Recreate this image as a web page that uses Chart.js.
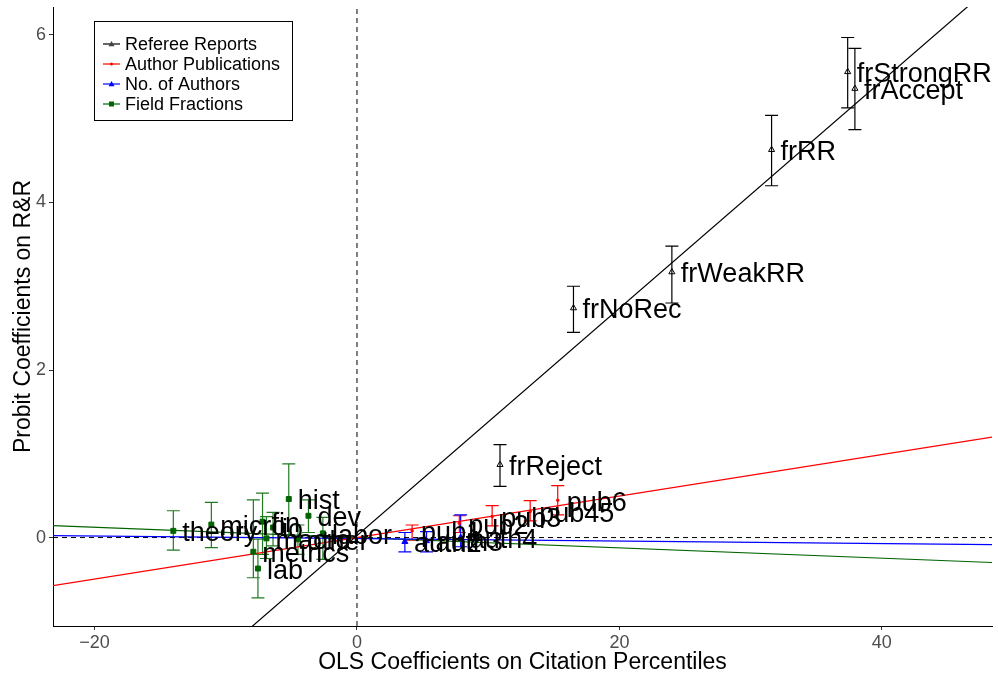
<!DOCTYPE html>
<html>
<head>
<meta charset="utf-8">
<script src="https://cdn.jsdelivr.net/npm/chart.js@4.4.1/dist/chart.umd.min.js"></script>
<style>
  html, body { margin: 0; padding: 0; background: #fff; }
  #wrap { width: 998px; height: 679px; }
</style>
</head>
<body>
<div id="wrap"><canvas id="grafico"></canvas></div>
<script>
// referee reports (black)
const refLabels = ['frReject', 'frNoRec', 'frWeakRR', 'frRR', 'frStrongRR', 'frAccept'];
const refX  = [10.9, 16.5, 24.0, 31.6, 37.4, 37.95];
const refY  = [0.87, 2.74, 3.17, 4.63, 5.56, 5.36];
const refLo = [0.61, 2.45, 2.80, 4.20, 5.13, 4.87];
const refHi = [1.11, 3.00, 3.48, 5.04, 5.97, 5.84];

// author publications (red)
const pubLabels = ['pub1', 'pub2', 'pub3', 'pub45', 'pub6'];
const pubX  = [4.2, 7.8, 10.3, 13.2, 15.3];
const pubY  = [0.08, 0.17, 0.25, 0.31, 0.445];
const pubLo = [-0.03, 0.06, 0.14, 0.20, 0.27];
const pubHi = [0.15, 0.26, 0.38, 0.44, 0.62];

// number of authors (blue)
const authLabels = ['auth2', 'auth3', 'auth4'];
const authX  = [3.65, 5.3, 7.9];
const authY  = [-0.05, -0.04, 0.0];
const authLo = [-0.17, -0.17, -0.11];
const authHi = [0.06, 0.07, 0.27];

// field fractions (green)
const fieldLabels = ['theory', 'micro', 'fin', 'io', 'hist', 'dev', 'metrics', 'lab', 'macro', 'labor', 'other'];
const fieldX  = [-14.0, -11.1, -7.2, -6.4, -5.2, -3.7, -7.9, -7.55, -6.9, -2.6, -4.5];
const fieldY  = [0.08, 0.155, 0.19, 0.12, 0.46, 0.26, -0.17, -0.37, -0.01, 0.05, -0.02];
const fieldLo = [-0.15, -0.12, -0.20, -0.10, 0.03, 0.06, -0.48, -0.72, -0.25, -0.26, -0.20];
const fieldHi = [0.32, 0.42, 0.53, 0.30, 0.88, 0.45, 0.45, -0.02, 0.25, 0.24, 0.15];

// fitted lines, y at the two ends of the x range
const fitX = [-23.17, 48.4];
const refFit = [-3.12, 6.59];
const pubFit = [-0.575, 1.2];
const authFit = [0.024, -0.084];
const fieldFit = [0.143, -0.298];

const xTicks = [-20, 0, 20, 40];
const yTicks = [0, 2, 4, 6];
const xMin = -23.17, xMax = 48.4, yMin = -1.056, yMax = 6.334;

const serie = [
  { nome: 'Referee Reports', colore: '#000000', barra: '#000000', etichette: refLabels, x: refX, y: refY, lo: refLo, hi: refHi, fit: refFit,
    stile: 'triangle', raggio: 3.5, pieno: false },
  { nome: 'Author Publications', colore: '#ff0000', barra: '#ff0000', etichette: pubLabels, x: pubX, y: pubY, lo: pubLo, hi: pubHi, fit: pubFit,
    stile: 'circle', raggio: 1.3, pieno: true },
  { nome: 'No. of Authors', colore: '#0000ff', barra: '#0000ff', etichette: authLabels, x: authX, y: authY, lo: authLo, hi: authHi, fit: authFit,
    stile: 'triangle', raggio: 3.5, pieno: true },
  { nome: 'Field Fractions', colore: '#006400', barra: '#217a21', etichette: fieldLabels, x: fieldX, y: fieldY, lo: fieldLo, hi: fieldHi, fit: fieldFit,
    stile: 'rect', raggio: 3.5, pieno: true }
];

const datasets = [];
serie.forEach(s => {
  datasets.push({
    label: s.nome,
    data: s.x.map((v, i) => ({ x: v, y: s.y[i] })),
    showLine: false,
    pointStyle: s.stile,
    pointRadius: s.raggio,
    pointBorderWidth: 1,
    pointBorderColor: s.colore,
    pointBackgroundColor: s.pieno ? s.colore : 'rgba(0,0,0,0)',
    order: 1
  });
});
serie.forEach(s => {
  datasets.push({
    label: s.nome + ' fit',
    data: fitX.map((v, i) => ({ x: v, y: s.fit[i] })),
    showLine: true,
    borderColor: s.colore,
    borderWidth: 1.2,
    pointRadius: 0,
    order: 2
  });
});
// dashed zero lines
datasets.push({
  label: 'zero x', data: [{ x: 0, y: yMin }, { x: 0, y: yMax }],
  showLine: true, borderColor: '#000', borderWidth: 1, borderDash: [5, 4], pointRadius: 0, order: 3
});
datasets.push({
  label: 'zero y', data: [{ x: xMin, y: 0 }, { x: xMax, y: 0 }],
  showLine: true, borderColor: '#000', borderWidth: 1, borderDash: [5, 4], pointRadius: 0, order: 3
});

const barre = {
  id: 'barre',
  beforeDatasetsDraw(chart) {
    const { ctx, chartArea: a, scales: { x, y } } = chart;
    ctx.save();
    ctx.beginPath();
    ctx.rect(a.left, a.top, a.right - a.left, a.bottom - a.top);
    ctx.clip();
    ctx.lineWidth = 1.2;
    serie.forEach(s => {
      ctx.strokeStyle = s.barra;
      s.x.forEach((v, i) => {
        const px = x.getPixelForValue(v);
        const t = y.getPixelForValue(s.hi[i]);
        const b = y.getPixelForValue(s.lo[i]);
        ctx.beginPath();
        ctx.moveTo(px, t); ctx.lineTo(px, b);
        ctx.moveTo(px - 6.5, t); ctx.lineTo(px + 6.5, t);
        ctx.moveTo(px - 6.5, b); ctx.lineTo(px + 6.5, b);
        ctx.stroke();
      });
    });
    ctx.restore();
  },
  afterDatasetsDraw(chart) {
    const { ctx, chartArea: a, scales: { x, y } } = chart;
    ctx.save();
    ctx.beginPath();
    ctx.rect(a.left, a.top, a.right - a.left, a.bottom - a.top);
    ctx.clip();
    ctx.fillStyle = '#000';
    ctx.font = '27px "Liberation Sans", Arial, sans-serif';
    ctx.textAlign = 'left';
    ctx.textBaseline = 'middle';
    serie.forEach(s => {
      s.etichette.forEach((t, i) => {
        ctx.fillText(t, x.getPixelForValue(s.x[i]) + 9, y.getPixelForValue(s.y[i]) + 3);
      });
    });
    ctx.restore();
  }
};

const legenda = {
  id: 'legenda',
  afterDraw(chart) {
    const ctx = chart.ctx;
    ctx.save();
    ctx.fillStyle = '#fff';
    ctx.fillRect(94, 21, 198, 100);
    ctx.strokeStyle = '#000';
    ctx.lineWidth = 1;
    ctx.strokeRect(94.5, 21.5, 198, 99);
    ctx.font = '18px "Liberation Sans", Arial, sans-serif';
    ctx.textBaseline = 'middle';
    ctx.textAlign = 'left';
    serie.forEach((s, i) => {
      const cy = 44 + i * 20;
      ctx.strokeStyle = s.colore;
      ctx.lineWidth = 1.2;
      ctx.beginPath();
      ctx.moveTo(103, cy); ctx.lineTo(120, cy);
      ctx.stroke();
      ctx.fillStyle = s.pieno ? s.colore : '#444';
      ctx.beginPath();
      if (s.stile === 'rect') ctx.fillRect(109, cy - 2.5, 5, 5);
      else if (s.stile === 'triangle') {
        ctx.moveTo(111.5, cy - 3); ctx.lineTo(114.5, cy + 2.2); ctx.lineTo(108.5, cy + 2.2); ctx.closePath(); ctx.fill();
      } else { ctx.arc(111.5, cy, 1.5, 0, Math.PI * 2); ctx.fill(); }
      ctx.fillStyle = '#000';
      ctx.fillText(s.nome, 125, cy + 1);
    });
    ctx.restore();
  }
};

const meno = v => String(v).replace('-', '\u2212');

const ctx = document.getElementById('grafico').getContext('2d');
const grafico = new Chart(ctx, {
  type: 'scatter',
  data: { datasets: datasets },
  plugins: [barre, legenda],
  options: {
    animation: false,
    responsive: true,
    maintainAspectRatio: false,
    layout: { padding: { top: 7, right: 6, left: 0, bottom: 0 } },
    plugins: { legend: { display: false }, tooltip: { enabled: false } },
    scales: {
      x: {
        type: 'linear', min: xMin, max: xMax,
        afterBuildTicks: s => { s.ticks = xTicks.map(v => ({ value: v })); },
        afterFit: s => { s.height = 53; s.paddingLeft = 0; s.paddingRight = 0; },
        grid: { drawOnChartArea: false, drawTicks: true, tickLength: 4, color: '#333' },
        border: { display: true, color: '#000', width: 1 },
        ticks: { color: '#4d4d4d', font: { size: 18, family: '"Liberation Sans", Arial, sans-serif' }, padding: 2, callback: v => meno(v), maxRotation: 0 },
        title: { display: true, text: 'OLS Coefficients on Citation Percentiles', color: '#000',
          font: { size: 23, family: '"Liberation Sans", Arial, sans-serif' }, padding: { top: 0, bottom: 3 } }
      },
      y: {
        type: 'linear', min: yMin, max: yMax,
        afterBuildTicks: s => { s.ticks = yTicks.map(v => ({ value: v })); },
        afterFit: s => { s.width = 53; s.paddingTop = 0; s.paddingBottom = 0; },
        grid: { drawOnChartArea: false, drawTicks: true, tickLength: 4, color: '#333' },
        border: { display: true, color: '#000', width: 1 },
        ticks: { color: '#4d4d4d', font: { size: 18, family: '"Liberation Sans", Arial, sans-serif' }, padding: 3, callback: v => meno(v) },
        title: { display: true, text: 'Probit Coefficients on R&R', color: '#000',
          font: { size: 23, family: '"Liberation Sans", Arial, sans-serif' }, padding: { top: 10, bottom: 0 } }
      }
    }
  }
});
</script>
</body>
</html>
